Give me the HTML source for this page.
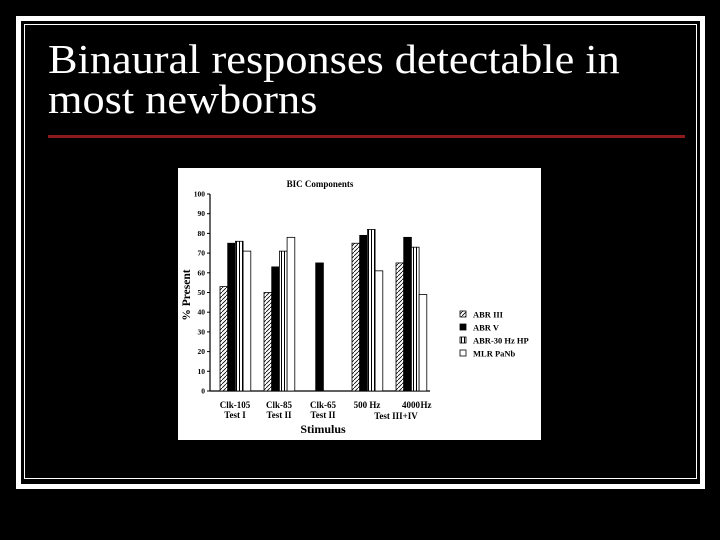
<!DOCTYPE html>
<html><head><meta charset="utf-8"><style>
html,body{margin:0;padding:0;background:#000;}
#slide{position:relative;width:720px;height:540px;background:#000;overflow:hidden;font-family:"Liberation Serif",serif;}
.ob{position:absolute;left:16px;top:16px;width:679px;height:463px;border:5px solid #fff;}
.ib{position:absolute;left:24px;top:24px;width:671px;height:453px;border:1px solid #fff;}
h1{position:absolute;left:48px;top:39px;margin:0;font-weight:normal;color:#fff;font-size:41px;line-height:40px;transform:scaleX(1.08);transform-origin:left top;white-space:nowrap;}
.rule{position:absolute;left:48px;top:135px;width:637px;height:3px;background:#8b1a1a;}
svg{position:absolute;left:178px;top:168px;}
svg text{font-family:"Liberation Serif",serif;font-weight:bold;}
</style></head><body>
<div id="slide">
<div class="ob"></div>
<div class="ib"></div>
<h1>Binaural responses detectable in<br>most newborns</h1>
<div class="rule"></div>
<svg id="chart" width="363" height="272">
<defs>
<pattern id="hatch" width="4" height="4" patternUnits="userSpaceOnUse"><rect width="4" height="4" fill="#fff"/><path d="M0,4 L4,0" stroke="#000" stroke-width="0.8"/></pattern>
<pattern id="vstripe" width="3" height="4" patternUnits="userSpaceOnUse"><rect width="3" height="4" fill="#fff"/><rect x="1" width="1" height="4" fill="#000"/></pattern>
</defs>
<rect width="363" height="272" fill="#fff"/>
</svg>
</div>
<script>
const categories=[["Clk-105","Test  I"],["Clk-85","Test  II"],["Clk-65","Test  II"],["500  Hz",""],["4000",""]];
const seriesNames=["ABR III","ABR V","ABR-30 Hz HP","MLR PaNb"];
const abr3=[53,50,0,75,65];
const abr5=[75,63,65,79,78];
const abr30=[76,71,0,82,73];
const mlr=[71,78,0,61,49];
const yTicks=[0,10,20,30,40,50,60,70,80,90,100];
const NS="http://www.w3.org/2000/svg";
const svg=document.getElementById('chart');
const fills=["url(#hatch)","#000","url(#vstripe)","#fff"];
const series=[abr3,abr5,abr30,mlr];
const y0=223,yH=197;
function ys(v){return y0-v/100*yH;}
function gx(i){return 42+i*44;}
const bw=7.7;
function mk(tag,attrs){const e=document.createElementNS(NS,tag);for(const k in attrs)e.setAttribute(k,attrs[k]);svg.appendChild(e);return e;}
let e;
e=mk('line',{x1:32,y1:y0,x2:252,y2:y0,stroke:'#000','stroke-width':1.2});


e=mk('line',{x1:32,y1:ys(100),x2:32,y2:y0,stroke:'#000','stroke-width':1.2});


yTicks.forEach(t=>{
 mk('line',{x1:29,x2:32,y1:ys(t),y2:ys(t),stroke:'#000'});
 e=mk('text',{x:27,y:ys(t)+2.5,'font-size':7.5,'text-anchor':'end'});e.textContent=t;
 
 
});
series.forEach((s,si)=>{s.forEach((v,i)=>{
 if(v<=0)return;
 e=mk('rect',{x:gx(i)+si*bw,y:ys(v),width:bw,height:y0-ys(v),fill:fills[si],stroke:'#000','stroke-width':0.8});
 
 
});});
categories.forEach((c,i)=>{
 e=mk('text',{x:gx(i)+15,y:240,'font-size':9,'text-anchor':'middle'});e.textContent=c[0];
 
 
 if(c[1]){e=mk('text',{x:gx(i)+15,y:250,'font-size':9,'text-anchor':'middle'});e.textContent=c[1];
 
 }
});
e=mk('text',{x:248,y:240,'font-size':9,'text-anchor':'middle'});e.textContent="Hz";


e=mk('text',{x:218,y:251,'font-size':9,'text-anchor':'middle'});e.textContent="Test  III+IV";


e=mk('text',{x:145,y:265,'font-size':12,'text-anchor':'middle'});e.textContent="Stimulus";


e=mk('text',{x:0,y:0,'font-size':11.5,'text-anchor':'middle',transform:'translate(12,127) rotate(-90)'});e.textContent="% Present";


e=mk('text',{x:142,y:19,'font-size':9,'text-anchor':'middle'});e.textContent="BIC  Components";


seriesNames.forEach((n,si)=>{
 const ly=143+si*13;
 e=mk('rect',{x:282,y:ly,width:6,height:6,fill:fills[si],stroke:'#000','stroke-width':0.8});
 
 
 e=mk('text',{x:295,y:ly+6.5,'font-size':8.5});e.textContent=n;
 
 
});
</script>
</body></html>
